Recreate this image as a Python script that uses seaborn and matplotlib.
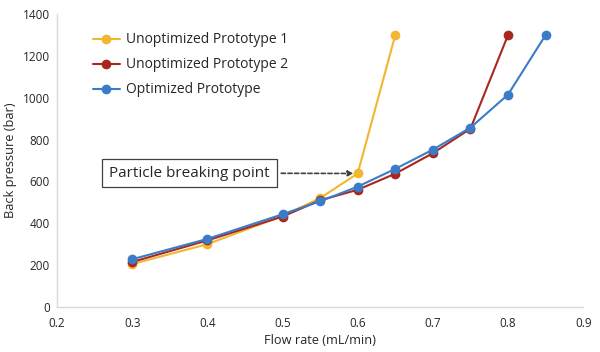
import numpy as np
import pandas as pd
import matplotlib.pyplot as plt
import seaborn as sns

# data
flow_p1 = [0.3, 0.4, 0.5, 0.55, 0.6, 0.65]
bp_p1 = [205, 300, 435, 520, 638, 1300]
flow_p2 = [0.3, 0.4, 0.5, 0.55, 0.6, 0.65, 0.7, 0.75, 0.8]
bp_p2 = [215, 318, 432, 510, 560, 637, 735, 852, 1300]
flow_opt = [0.3, 0.4, 0.5, 0.55, 0.6, 0.65, 0.7, 0.75, 0.8, 0.85]
bp_opt = [228, 325, 443, 505, 575, 660, 752, 857, 1015, 1300]

names = ['Unoptimized Prototype 1', 'Unoptimized Prototype 2', 'Optimized Prototype']
colors = ['#F2B630', '#A8281F', '#3A7CC8']

df = pd.concat([
    pd.DataFrame({'flow': flow_p1, 'bp': bp_p1, 'series': names[0]}),
    pd.DataFrame({'flow': flow_p2, 'bp': bp_p2, 'series': names[1]}),
    pd.DataFrame({'flow': flow_opt, 'bp': bp_opt, 'series': names[2]}),
], ignore_index=True)

sns.set_style('white')
plt.rcParams['font.family'] = ['Open Sans', 'DejaVu Sans']

fig, ax = plt.subplots(figsize=(6, 3.52), dpi=100)
fig.subplots_adjust(left=0.095, right=0.972, top=0.96, bottom=0.128)

sns.lineplot(data=df, x='flow', y='bp', hue='series', hue_order=names,
             palette=colors, marker='o', markersize=7, markeredgewidth=0,
             linewidth=1.5, sort=False, ax=ax)

ax.set_xlim(0.2, 0.9)
ax.set_ylim(0, 1400)
ax.set_xticks(np.arange(0.2, 0.91, 0.1))
ax.set_xticklabels(['0.2', '0.3', '0.4', '0.5', '0.6', '0.7', '0.8', '0.9'])
ax.set_yticks(range(0, 1401, 200))
ax.tick_params(labelsize=8.5, length=0)
ax.tick_params(axis='x', pad=7)
ax.tick_params(axis='y', pad=5)
ax.set_xlabel('Flow rate (mL/min)', fontsize=9.2, labelpad=3)
ax.set_ylabel('Back pressure (bar)', fontsize=9.2, labelpad=4)

for s in ['top', 'right']:
    ax.spines[s].set_visible(False)
for s in ['left', 'bottom']:
    ax.spines[s].set_color('#D9D9D9')
    ax.spines[s].set_linewidth(1)

leg = ax.legend(loc='upper left', bbox_to_anchor=(0.045, 0.98), frameon=False,
                fontsize=10, handlelength=1.9, labelspacing=0.72, handletextpad=0.45)

ax.annotate('Particle breaking point', xy=(0.6, 638), xytext=(0.483, 640),
            fontsize=11, ha='right', va='center',
            bbox=dict(boxstyle='square,pad=0.45', fc='white', ec='#404040', lw=0.9),
            arrowprops=dict(arrowstyle='-|>', color='#404040', lw=1.2, ls=(0, (2.5, 1.5)),
                            mutation_scale=8, shrinkA=3, shrinkB=3))

fig.savefig('out.png', dpi=100)
